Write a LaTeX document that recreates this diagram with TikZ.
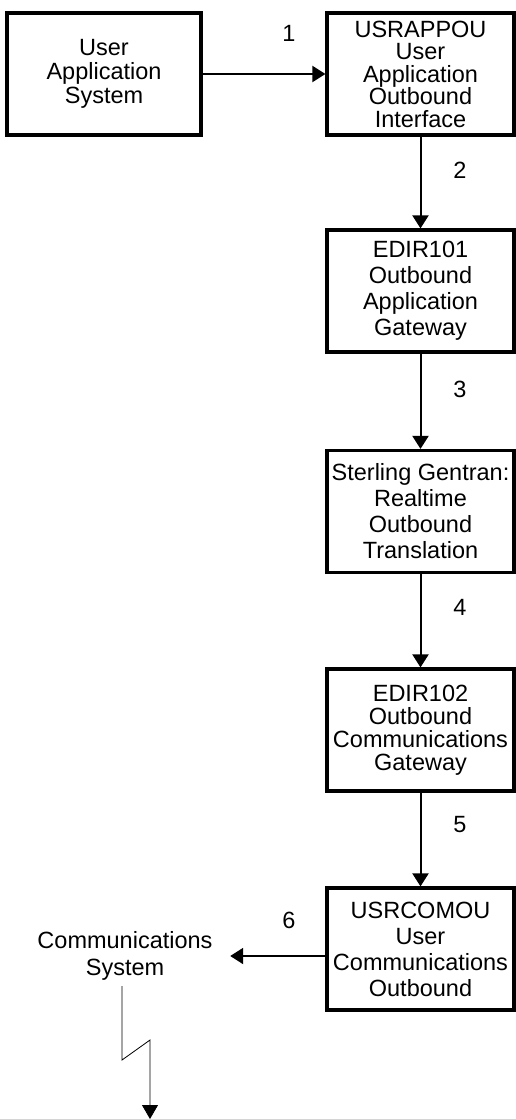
\documentclass[tikz,border=0pt]{standalone}
\usepackage{fontspec}
\setmainfont{Liberation Sans}
\usetikzlibrary{arrows.meta}

\tikzset{
  procbox/.style={draw, line width=3.2pt, minimum width=187pt, minimum height=122pt,
    align=center, inner sep=0pt},
  srcbox/.style={procbox, minimum width=194pt},
  flow/.style={line width=2pt, -{Triangle[length=13pt,width=16pt]}},
  link/.style={line width=0.8pt, -{Triangle[length=14pt,width=16pt]}},
  steplabel/.style={font=\fontsize{23.5}{26}\selectfont, inner sep=0pt},
}
\newcommand{\txt}[1]{\fontsize{23.5}{#1}\selectfont}

\begin{document}
\begin{tikzpicture}[x=1pt,y=-1pt]
\useasboundingbox (0,0) rectangle (516,1119);

% process boxes
\node[srcbox, font=\txt{24}] (app) at (104,74) {User\\Application\\System};
\node[procbox, font=\txt{22.5}] (usrapp) at (420.5,74) {USRAPPOU\\User\\Application\\Outbound\\Interface};
\node[procbox, font=\txt{26}] (edir1) at (420.5,291) {EDIR101\\Outbound\\Application\\Gateway};
\node[procbox, font=\txt{26}] (gentran) at (420.5,511.5) {Sterling Gentran:\\Realtime\\Outbound\\Translation};
\node[procbox, font=\txt{23}] (edir2) at (420.5,730) {EDIR102\\Outbound\\Communications\\Gateway};
\node[procbox, font=\txt{26}] (usrcom) at (420.5,949) {USRCOMOU\\User\\Communications\\Outbound};

% external communications system
\node[align=center, font=\txt{27}, inner xsep=17.5pt, inner ysep=0pt] (comm) at (125,956) {Communications\\System};

% main flow
\draw[flow] (app.east) -- (usrapp.west);
\draw[flow] (usrapp.south -| edir1.north) -- (edir1.north);
\draw[flow] (edir1.south) -- (gentran.north);
\draw[flow] (gentran.south) -- (edir2.north);
\draw[flow] (edir2.south) -- (usrcom.north);
\draw[flow] (usrcom.west |- comm.east) -- (comm.east);

% step numbers
\node[steplabel] (n1) at (289,33) {1};
\node[steplabel] (n2) at (460,170) {2};
\node[steplabel] (n3) at (460,389) {3};
\node[steplabel] (n4) at (460,607) {4};
\node[steplabel] (n5) at (460,825) {5};
\node[steplabel] (n6) at (289,920) {6};

% line out of the communications system
\coordinate (z1) at (122,986);
\coordinate (z2) at (122,1060);
\coordinate (z3) at (150,1040);
\coordinate (z4) at (150,1119);
\draw[link] (z1) -- (z2) -- (z3) -- (z4);
\end{tikzpicture}
\end{document}
